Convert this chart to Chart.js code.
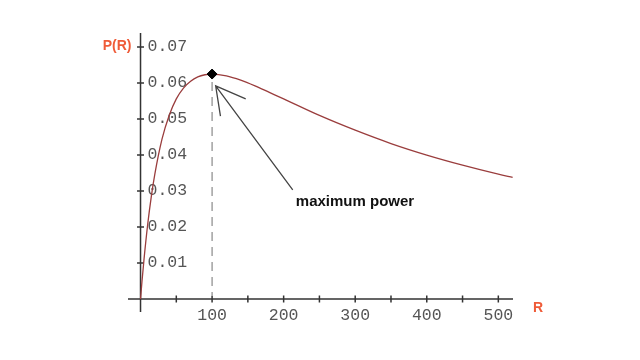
<!DOCTYPE html>
<html>
<head>
<meta charset="utf-8">
<script src="https://cdn.jsdelivr.net/npm/chart.js@4"></script>
<style>
  html, body { margin: 0; padding: 0; background: #fff; }
  #wrap { width: 640px; height: 360px; }
</style>
</head>
<body>
<div id="wrap"><canvas id="chart"></canvas></div>
<script>
// DATA
const resistance = [0, 2, 5, 10, 15, 20, 30, 40, 50, 60, 70, 80, 90, 100,
  120, 140, 160, 180, 200, 250, 300, 350, 400, 450, 500, 520];
const power = [0, 0.0048, 0.0113, 0.0207, 0.0284, 0.0347, 0.0444, 0.0510,
  0.0556, 0.0586, 0.0605, 0.0617, 0.0623, 0.0625, 0.0620, 0.0608, 0.0592,
  0.0574, 0.0556, 0.0510, 0.0469, 0.0432, 0.0400, 0.0372, 0.0347, 0.0338];
const peak = { r: 100, p: 0.0625 };
const xTicks = [50, 100, 150, 200, 250, 300, 350, 400, 450, 500];
const xTickLabels = ["100", "200", "300", "400", "500"];
const yTicks = [0.01, 0.02, 0.03, 0.04, 0.05, 0.06, 0.07];
const yTickLabels = ["0.01", "0.02", "0.03", "0.04", "0.05", "0.06", "0.07"];
// arrow: tail, tip, two head ends (data units)
const arrow = [[212.7, 0.0303], [105, 0.0592], [147, 0.0556], [111.7, 0.0508]];
const note = { r: 217, p: 0.0269, text: "maximum power" };

const AXIS = "#333";
const LABEL = "#555";
const TITLE = "#ef5b38";

// AXES + ANNOTATIONS
const axesPlugin = {
  id: "axes",
  beforeDatasetsDraw(chart) {
    const { ctx, chartArea: a, scales: { x, y } } = chart;
    const x0 = x.getPixelForValue(0), y0 = y.getPixelForValue(0);
    ctx.save();
    ctx.strokeStyle = AXIS;
    ctx.lineWidth = 1.5;
    ctx.beginPath();
    ctx.moveTo(a.left, y0); ctx.lineTo(a.right, y0);
    ctx.moveTo(x0, a.top); ctx.lineTo(x0, a.bottom);
    xTicks.forEach(v => {
      const px = x.getPixelForValue(v);
      ctx.moveTo(px, y0 - 3.5); ctx.lineTo(px, y0 + 3.5);
    });
    yTicks.forEach(v => {
      const py = y.getPixelForValue(v);
      ctx.moveTo(x0 - 3.5, py); ctx.lineTo(x0 + 3.5, py);
    });
    ctx.stroke();

    ctx.fillStyle = LABEL;
    ctx.font = "16.5px 'Liberation Mono', monospace";
    ctx.textBaseline = "middle";
    ctx.textAlign = "center";
    xTickLabels.forEach(t => ctx.fillText(t, x.getPixelForValue(+t), y0 + 17));
    ctx.textAlign = "left";
    yTickLabels.forEach(t => ctx.fillText(t, x0 + 7, y.getPixelForValue(+t)));

    ctx.fillStyle = TITLE;
    ctx.font = "bold 14px 'Liberation Sans', Arial, sans-serif";
    ctx.textAlign = "right";
    ctx.fillText("P(R)", x0 - 9, y.getPixelForValue(0.07) - 1);
    ctx.textAlign = "left";
    ctx.fillText("R", a.right + 20, y0 + 9);

    // dashed line under the maximum
    ctx.strokeStyle = "#8a8a8a";
    ctx.lineWidth = 1.2;
    ctx.setLineDash([9, 6]);
    ctx.beginPath();
    ctx.moveTo(x.getPixelForValue(peak.r), y.getPixelForValue(peak.p) + 8);
    ctx.lineTo(x.getPixelForValue(peak.r), y0 - 4);
    ctx.stroke();
    ctx.setLineDash([]);

    // arrow
    const P = ([r, p]) => [x.getPixelForValue(r), y.getPixelForValue(p)];
    const [tail, tip, h1, h2] = arrow.map(P);
    ctx.strokeStyle = "#444";
    ctx.lineWidth = 1.3;
    ctx.beginPath();
    ctx.moveTo(...tail); ctx.lineTo(...tip);
    ctx.moveTo(...h1); ctx.lineTo(...tip); ctx.lineTo(...h2);
    ctx.stroke();

    ctx.fillStyle = "#111";
    ctx.font = "bold 15px 'Liberation Sans', Arial, sans-serif";
    ctx.textAlign = "left";
    ctx.fillText(note.text, x.getPixelForValue(note.r), y.getPixelForValue(note.p));
    ctx.restore();
  }
};

new Chart(document.querySelector("#chart"), {
  type: "scatter",
  data: {
    datasets: [
      {
        data: resistance.map((r, i) => ({ x: r, y: power[i] })),
        showLine: true,
        borderColor: "#9a3d3d",
        borderWidth: 1.3,
        pointRadius: 0,
        cubicInterpolationMode: "monotone",
        order: 2,
      },
      {
        data: [{ x: peak.r, y: peak.p }],
        pointStyle: "rectRot",
        pointRadius: 5,
        backgroundColor: "#000",
        borderColor: "#000",
        order: 1,
      },
    ],
  },
  options: {
    responsive: true,
    maintainAspectRatio: false,
    animation: false,
    layout: { padding: { left: 128, right: 127, top: 33, bottom: 48 } },
    plugins: { legend: { display: false }, tooltip: { enabled: false } },
    scales: {
      x: { type: "linear", min: -17.5, max: 520.5, display: false },
      y: { type: "linear", min: -0.0036, max: 0.0739, display: false },
    },
  },
  plugins: [axesPlugin],
});
</script>
</body>
</html>
